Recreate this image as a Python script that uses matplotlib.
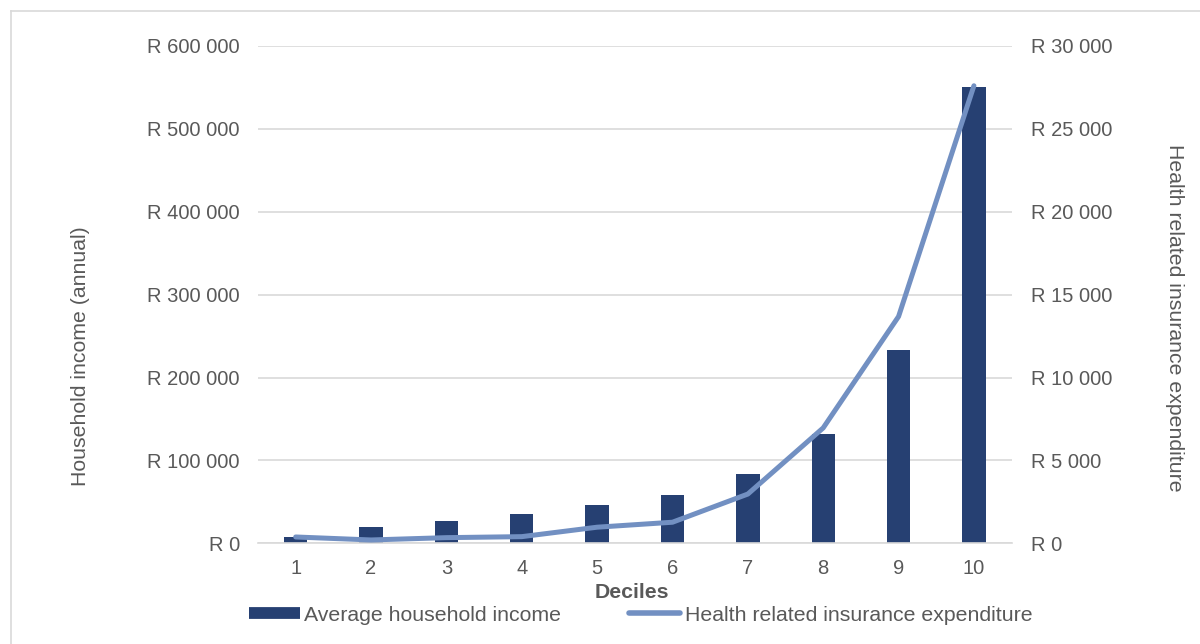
import matplotlib.pyplot as plt
from matplotlib.lines import Line2D
from matplotlib.ticker import FuncFormatter

plt.rcParams['font.family'] = ['Liberation Sans', 'DejaVu Sans']

# Average annual household income and health insurance spend per decile
deciles = ['1', '2', '3', '4', '5', '6', '7', '8', '9', '10']
income = [7200, 19300, 26900, 35700, 46100, 57800, 83900, 132000, 232800, 550800]
insurance = [380, 200, 340, 400, 970, 1270, 2970, 6960, 13680, 27600]

BAR = '#264072'
LINE = '#7290c2'
TEXT = '#595959'
GRID = '#d9d9d9'
FS = 14.5
FS_TITLE = 15.3


def rand_fmt(v, pos):
    return 'R ' + f'{int(round(v)):,}'.replace(',', ' ')


fig = plt.figure(figsize=(12, 6.44), dpi=100)
ax = fig.add_axes([0.215, 0.1564, 0.628, 0.7722])
ax2 = ax.twinx()

x = list(range(len(deciles)))
ax.bar(x, income, width=0.31, color=BAR, zorder=2)
ax2.plot(x, insurance, color=LINE, linewidth=3.6, solid_capstyle='round',
         solid_joinstyle='round', zorder=3)

ax.set_xlim(-0.5, len(deciles) - 0.5)
ax.set_ylim(0, 600000)
ax2.set_ylim(0, 30000)
ax.set_yticks(range(0, 600001, 100000))
ax2.set_yticks(range(0, 30001, 5000))
ax.yaxis.set_major_formatter(FuncFormatter(rand_fmt))
ax2.yaxis.set_major_formatter(FuncFormatter(rand_fmt))
ax.set_xticks(x)
ax.set_xticklabels(deciles)

ax.grid(axis='y', color=GRID, linewidth=1.2, zorder=0)
ax.set_axisbelow(True)
for a in (ax, ax2):
    for s in a.spines.values():
        s.set_visible(False)
    a.tick_params(length=0, labelsize=FS, colors=TEXT)
ax.spines['bottom'].set_visible(True)
ax.spines['bottom'].set_color(GRID)
ax.spines['bottom'].set_linewidth(1.2)
ax.tick_params(axis='y', pad=13)
ax2.tick_params(axis='y', pad=14)
ax.tick_params(axis='x', pad=11)

# axis titles
ax.text(-0.236, 0.377, 'Household income (annual)', transform=ax.transAxes,
        rotation=90, ha='center', va='center', fontsize=FS_TITLE, color=TEXT)
ax.text(1.216, 0.453, 'Health related insurance expenditure', transform=ax.transAxes,
        rotation=270, ha='center', va='center', fontsize=FS_TITLE, color=TEXT)
ax.text(0.496, -0.098, 'Deciles', transform=ax.transAxes, ha='center', va='center',
        fontsize=FS_TITLE, color=TEXT, fontweight='bold')

handles = [Line2D([], [], color=BAR, linewidth=8.5, solid_capstyle='butt'),
           Line2D([], [], color=LINE, linewidth=4, solid_capstyle='round')]
fig.legend(handles, ['Average household income', 'Health related insurance expenditure'],
           loc='center', bbox_to_anchor=(0.534, 0.045), ncol=2, frameon=False,
           fontsize=FS_TITLE, labelcolor=TEXT, handlelength=2.4, handletextpad=0.2,
           columnspacing=3.2)

# thin frame around the chart area
fig.add_artist(Line2D([11 / 1200, 1.0], [1 - 11 / 644, 1 - 11 / 644],
                      transform=fig.transFigure, color=GRID, linewidth=1.2))
fig.add_artist(Line2D([11 / 1200, 11 / 1200], [0, 1 - 11 / 644],
                      transform=fig.transFigure, color=GRID, linewidth=1.2))

fig.savefig('out.png', dpi=100, facecolor='white')
